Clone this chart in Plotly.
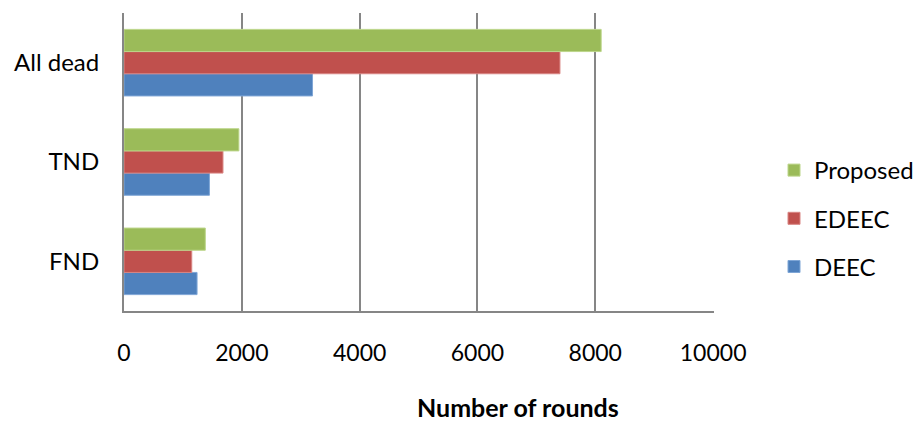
import plotly.graph_objects as go

categories = ["FND", "TND", "All dead"]
deec = [1240, 1450, 3200]
edeec = [1150, 1680, 7400]
proposed = [1380, 1950, 8100]
x_ticks = [0, 2000, 4000, 6000, 8000, 10000]
x_title = "Number of rounds"

FONT = "Lato"
fig = go.Figure()
series = [("DEEC", deec, "#4F81BD", "#7FA6D6", 3),
          ("EDEEC", edeec, "#C0504D", "#D98583", 2),
          ("Proposed", proposed, "#9BBB59", "#BCD68A", 1)]
for name, vals, col, edge, rank in series:
    fig.add_trace(go.Bar(
        y=categories, x=vals, name=name, orientation="h",
        marker=dict(color=col, line=dict(color=edge, width=1)),
        legendgroup=name, legendrank=rank,
    ))

fig.update_layout(
    width=918, height=421,
    margin=dict(l=124, r=204, t=13, b=110, autoexpand=False),
    paper_bgcolor="white", plot_bgcolor="white",
    barmode="group", bargap=0.33, bargroupgap=0,
    font=dict(family=FONT, size=24, color="black"),
    legend=dict(x=(774 - 124) / 590, xanchor="left", y=(311 - 218.5) / 298, yanchor="middle",
                traceorder="grouped", tracegroupgap=14,
                font=dict(family=FONT, size=24, color="black"),
                itemwidth=30, bgcolor="rgba(0,0,0,0)"),
    showlegend=True,
)
fig.update_xaxes(
    range=[0, 10015], tickvals=x_ticks, ticktext=[str(v) for v in x_ticks],
    showgrid=True, gridcolor="#868686", gridwidth=2,
    showline=True, linecolor="#868686", linewidth=2,
    zeroline=False, ticks="", ticklabelstandoff=20,
    tickfont=dict(family=FONT, size=23, color="black"),
)
fig.update_yaxes(
    showline=True, linecolor="#868686", linewidth=2,
    showgrid=False, ticks="", ticklabelstandoff=18,
    tickfont=dict(family=FONT, size=24, color="black"),
)
fig.add_annotation(
    text="<b>" + x_title + "</b>", xref="paper", yref="paper",
    x=(518 - 124) / 590, y=-(407 - 311) / 298, xanchor="center", yanchor="middle",
    showarrow=False, font=dict(family=FONT, size=25, color="black"),
)
fig.write_html("out.html")
